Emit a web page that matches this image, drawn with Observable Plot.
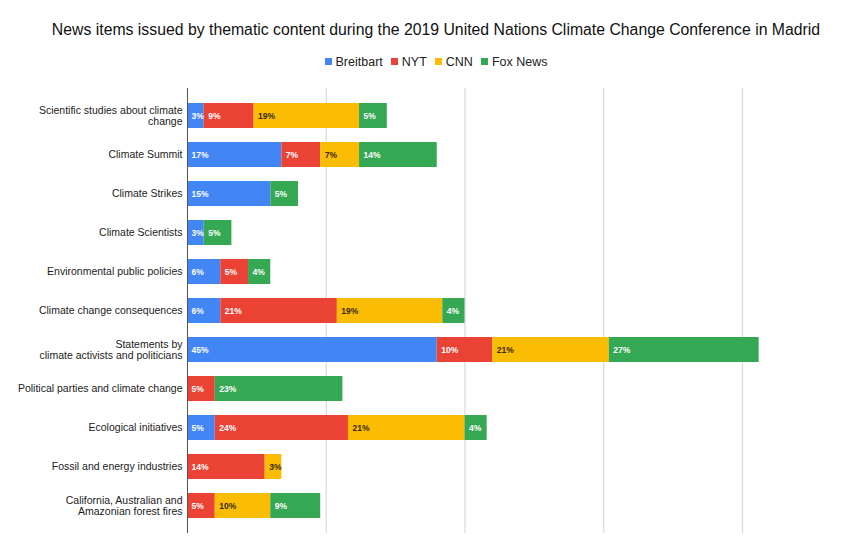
<!DOCTYPE html>
<html>
<head>
<meta charset="utf-8">
<script src="https://cdn.jsdelivr.net/npm/d3@7"></script>
<script src="https://cdn.jsdelivr.net/npm/@observablehq/plot@0.6"></script>
<style>
  html, body { margin: 0; padding: 0; background: #fff; }
  body { width: 850px; height: 536px; overflow: hidden; font-family: "Liberation Sans", Arial, sans-serif; }
  #title { box-sizing: border-box; height: 50px; padding-top: 20px; line-height: 20px; font-size: 15.8px; color: #111; text-align: center; padding-left: 22px; white-space: nowrap; }
  #legend { height: 24px; line-height: 24px; font-size: 12.5px; color: #222; text-align: center; padding-left: 22px; }
  #legend span.item { margin: 0 4px; white-space: nowrap; }
  #legend span.sw { display: inline-block; width: 7px; height: 7px; margin-right: 4px; vertical-align: 1px; }
  #chart svg { display: block; }
</style>
</head>
<body>
<div id="title">News items issued by thematic content during the 2019 United Nations Climate Change Conference in Madrid</div>
<div id="legend"></div>
<div id="chart"></div>
<script>
const categories = [
  "Scientific studies about climate\nchange",
  "Climate Summit",
  "Climate Strikes",
  "Climate Scientists",
  "Environmental public policies",
  "Climate change consequences",
  "Statements by\nclimate activists and politicians",
  "Political parties and climate change",
  "Ecological initiatives",
  "Fossil and energy industries",
  "California, Australian and\nAmazonian forest fires"
];
const outlets = ["Breitbart", "NYT", "CNN", "Fox News"];
const colors = ["#4285F4", "#EA4335", "#FBBC04", "#34A853"];
const breitbart = [3, 17, 15, 3, 6, 6, 45, 0, 5, 0, 0];
const nyt       = [9, 7, 0, 0, 5, 21, 10, 5, 24, 14, 5];
const cnn       = [19, 7, 0, 0, 0, 19, 21, 0, 21, 3, 10];
const foxNews   = [5, 14, 5, 5, 4, 4, 27, 23, 4, 0, 9];
const gridTicks = [0, 25, 50, 75, 100];

const series = [breitbart, nyt, cnn, foxNews];
const rows = [];
categories.forEach((c, i) => {
  outlets.forEach((o, j) => {
    const v = series[j][i];
    if (v > 0) rows.push({category: c, outlet: o, value: v, label: v + "%"});
  });
});

// legend
const legend = document.getElementById("legend");
outlets.forEach((o, j) => {
  const s = document.createElement("span");
  s.className = "item";
  s.innerHTML = `<span class="sw" style="background:${colors[j]}"></span>${o}`;
  legend.appendChild(s);
});

const chart = Plot.plot({
  width: 850,
  height: 462,
  marginTop: 14,
  marginBottom: 3,
  marginLeft: 187,
  marginRight: 108,
  style: {fontFamily: "'Liberation Sans', Arial, sans-serif", background: "#fff"},
  x: {domain: [0, 100], axis: null},
  y: {domain: categories, padding: 0.36, label: null},
  color: {domain: outlets, range: colors},
  marks: [
    Plot.gridX(gridTicks, {stroke: "#d9d9d9", strokeOpacity: 1, strokeWidth: 1.2}),
    Plot.barX(rows, Plot.stackX({x: "value", y: "category", fill: "outlet", z: "outlet", order: outlets})),
    Plot.textX(rows, Plot.stackX1({
      x: "value", y: "category", z: "outlet", order: outlets,
      text: "label", textAnchor: "start", dx: 4,
      fontSize: 8.5, fontWeight: "bold",
      fill: d => d.outlet === "CNN" ? "#3a2a00" : "#ffffff"
    })),
    Plot.ruleX([0], {stroke: "#555", strokeWidth: 1}),
    Plot.axisY({tickSize: 0, tickPadding: 5, fontSize: 10.5, lineHeight: 1, fill: "#222", label: null})
  ]
});
document.getElementById("chart").appendChild(chart);
</script>
</body>
</html>
